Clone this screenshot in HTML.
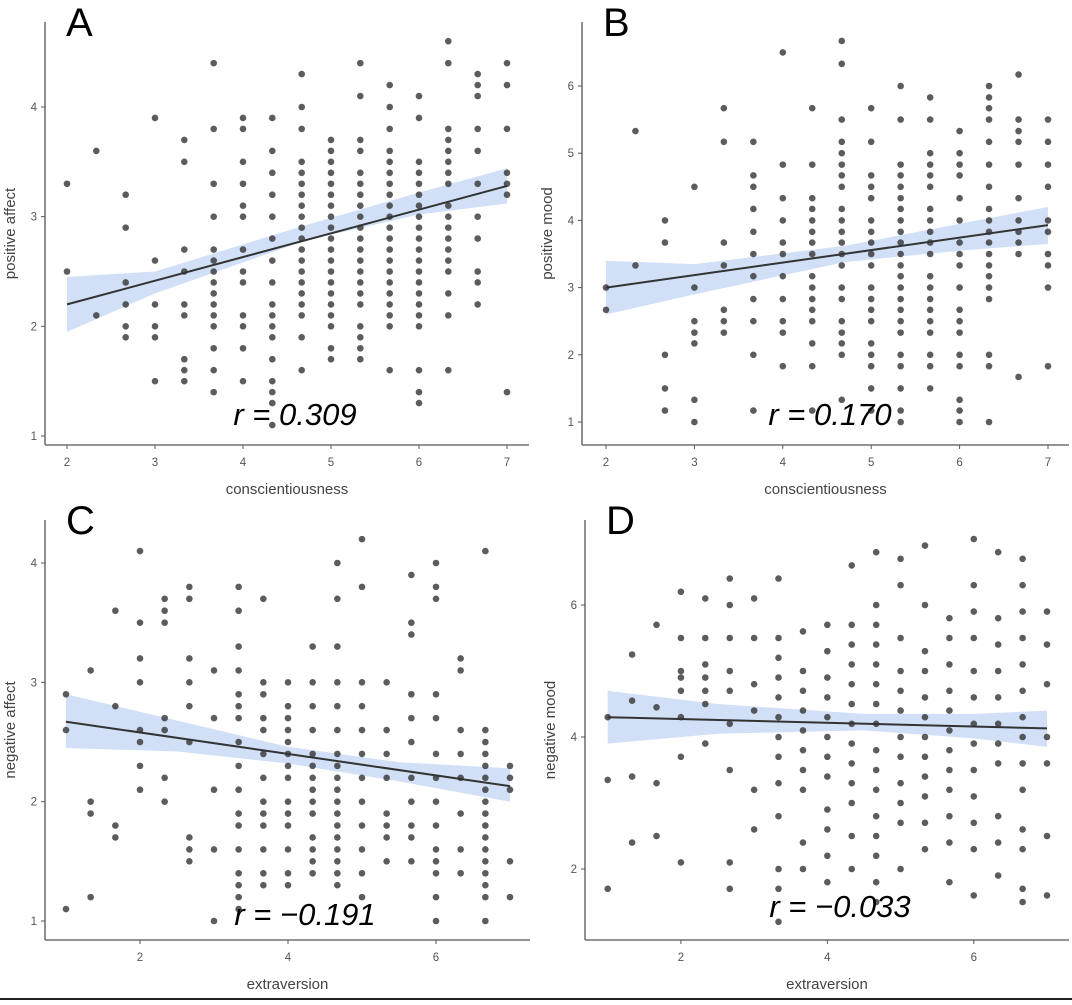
<!DOCTYPE html>
<html><head><meta charset="utf-8"><style>
body{margin:0;background:#fff;width:1072px;height:1000px;overflow:hidden;font-family:"Liberation Sans",sans-serif}
svg text{font-family:"Liberation Sans",sans-serif}
</style></head><body>
<svg id="fig" width="1072" height="1000" viewBox="0 0 1072 1000" xmlns="http://www.w3.org/2000/svg">
<line x1="0" y1="999" x2="1072" y2="999" stroke="#222" stroke-width="2"/>
</svg>
<script>
// Panel A: conscientiousness vs positive affect
const aCols=[2,2.333,2.667,3,3.333,3.667,4,4.333,4.667,5,5.333,5.667,6,6.333,6.667,7];
const aVals=[[3.3,2.5],[3.6,2.1],[3.2,2.9,2.4,2.2,2.0,1.9],[3.9,2.6,2.2,2.0,1.9,1.5],[3.7,3.5,2.7,2.5,2.2,2.1,1.7,1.6,1.5],
[4.4,3.8,3.3,3.0,2.7,2.6,2.5,2.4,2.3,2.2,2.1,2.0,1.8,1.6,1.4],[3.9,3.8,3.5,3.3,3.1,3.0,2.7,2.5,2.4,2.1,2.0,1.8,1.5],
[3.9,3.6,3.4,3.2,3.0,2.8,2.6,2.4,2.2,2.1,2.0,1.9,1.7,1.5,1.4,1.3,1.1],
[4.3,4.0,3.8,3.5,3.4,3.3,3.2,3.1,3.0,2.9,2.8,2.7,2.6,2.5,2.4,2.3,2.2,2.1,1.9,1.6],
[3.7,3.6,3.5,3.4,3.3,3.2,3.1,3.0,2.9,2.8,2.7,2.6,2.5,2.4,2.3,2.2,2.1,2.0,1.8,1.7],
[4.4,4.1,3.7,3.6,3.4,3.3,3.2,3.1,3.0,2.9,2.8,2.7,2.6,2.5,2.4,2.3,2.2,2.0,1.9,1.8,1.7],
[4.2,4.0,3.8,3.6,3.5,3.4,3.3,3.2,3.1,3.0,2.9,2.8,2.7,2.6,2.5,2.4,2.3,2.2,2.1,2.0,1.6],
[4.1,3.9,3.5,3.4,3.3,3.2,3.1,3.0,2.9,2.8,2.7,2.6,2.5,2.4,2.3,2.2,2.1,2.0,1.6,1.4,1.3],
[4.6,4.4,3.8,3.7,3.6,3.5,3.4,3.3,3.1,3.0,2.9,2.8,2.7,2.6,2.5,2.3,2.1,1.6],
[4.3,4.2,4.1,3.8,3.6,3.3,3.0,2.8,2.5,2.4,2.2],[4.4,4.2,3.8,3.4,3.3,3.2,1.4]];
const aFit=[2.2,3.28];
const aBandX=[2,3,4.7,6,7];
const aBandLo=[1.95,2.3,2.78,3.02,3.12];
const aBandHi=[2.45,2.5,2.92,3.22,3.44];
const aXTicks=[2,3,4,5,6,7];
const aYTicks=[1,2,3,4];

// Panel B: conscientiousness vs positive mood
const bCols=aCols;
const bVals=[[3.0,2.67],[5.33,3.33],[4.0,3.67,2.0,1.5,1.17],[4.5,3.0,2.5,2.33,2.17,1.33,1.0],[5.67,5.17,3.67,3.33,2.67,2.5,2.33],
[5.17,4.67,4.5,4.17,3.83,3.5,3.17,2.83,2.5,2.0,1.17],[6.5,4.83,4.33,4.0,3.67,3.5,3.17,2.83,2.5,2.33,1.83],
[5.67,4.83,4.33,4.17,4.0,3.83,3.67,3.5,3.17,3.0,2.83,2.67,2.5,2.17,1.83,1.17],
[6.67,6.33,5.5,5.17,5.0,4.83,4.67,4.5,4.17,4.0,3.83,3.67,3.5,3.33,3.0,2.83,2.5,2.33,2.17,2.0,1.33],
[5.67,5.17,4.67,4.5,4.33,4.0,3.83,3.67,3.5,3.33,3.0,2.83,2.67,2.5,2.17,2.0,1.83,1.5,1.17],
[6.0,5.5,4.83,4.67,4.5,4.33,4.17,4.0,3.83,3.67,3.5,3.33,3.17,3.0,2.83,2.67,2.5,2.33,2.0,1.83,1.5,1.17,1.0],
[5.83,5.5,5.0,4.83,4.67,4.5,4.17,4.0,3.83,3.67,3.5,3.17,3.0,2.83,2.67,2.5,2.33,2.0,1.83,1.5],
[5.33,5.0,4.83,4.67,4.33,4.0,3.67,3.5,3.33,3.0,2.67,2.5,2.33,2.0,1.83,1.33,1.17,1.0],
[6.0,5.83,5.67,5.5,5.17,4.83,4.5,4.17,4.0,3.83,3.67,3.5,3.33,3.17,3.0,2.83,2.0,1.83,1.0],
[6.17,5.5,5.33,5.17,4.83,4.33,4.0,3.83,3.67,3.5,1.67],[5.5,5.17,4.83,4.5,4.0,3.83,3.5,3.33,3.0,1.83]];
const bFit=[3.0,3.93];
const bBandX=[2,3,4.7,6,7];
const bBandLo=[2.6,2.9,3.38,3.55,3.65];
const bBandHi=[3.4,3.35,3.62,3.95,4.2];
const bXTicks=[2,3,4,5,6,7];
const bYTicks=[1,2,3,4,5,6];

// Panel C: extraversion vs negative affect
const cCols=[1,1.333,1.667,2,2.333,2.667,3,3.333,3.667,4,4.333,4.667,5,5.333,5.667,6,6.333,6.667,7];
const cVals=[[2.9,2.6,1.1],[3.1,2.0,1.9,1.2],[3.6,2.8,1.8,1.7],[4.1,3.5,3.2,3.0,2.6,2.5,2.3,2.1],[3.7,3.6,3.5,2.7,2.6,2.2,2.0],
[3.8,3.7,3.2,3.0,2.8,2.5,1.7,1.6,1.5],[3.1,2.7,2.1,1.6,1.0],
[3.8,3.6,3.3,3.1,2.9,2.8,2.7,2.5,2.3,2.1,1.9,1.8,1.6,1.4,1.3,1.2,1.1],
[3.7,3.0,2.9,2.7,2.6,2.4,2.2,2.0,1.9,1.8,1.6,1.4,1.3],[3.0,2.8,2.7,2.6,2.5,2.4,2.3,2.2,2.0,1.9,1.8,1.6,1.4,1.3],
[3.3,3.0,2.8,2.6,2.4,2.3,2.2,2.1,2.0,1.9,1.7,1.6,1.5,1.4],
[4.0,3.7,3.3,3.0,2.8,2.6,2.4,2.3,2.2,2.1,2.0,1.9,1.8,1.7,1.6,1.5,1.4,1.3],
[4.2,3.8,3.0,2.8,2.6,2.4,2.2,2.0,1.8,1.6,1.4,1.2],[3.0,2.6,2.4,2.2,1.9,1.8,1.7,1.5],
[3.9,3.5,3.4,2.9,2.7,2.5,2.2,2.0,1.8,1.7,1.5],[4.0,3.8,3.7,2.9,2.7,2.4,2.2,2.0,1.8,1.6,1.5,1.4,1.2,1.0],
[3.2,3.1,2.6,2.4,2.2,1.9,1.6,1.4],[4.1,2.6,2.5,2.4,2.3,2.2,2.1,2.0,1.9,1.8,1.7,1.6,1.5,1.4,1.3,1.2,1.0],[2.3,2.2,2.1,1.5,1.2]];
const cFit=[2.67,2.13];
const cBandX=[1,2.5,4,5.5,7];
const cBandLo=[2.45,2.42,2.32,2.17,2.0];
const cBandHi=[2.9,2.68,2.46,2.33,2.28];
const cXTicks=[2,4,6];
const cYTicks=[1,2,3,4];

// Panel D: extraversion vs negative mood
const dCols=cCols;
const dVals=[[4.3,3.35,1.7],[5.25,4.55,3.4,2.4],[5.7,4.45,3.3,2.5],[6.2,5.5,5.0,4.9,4.7,4.3,3.7,2.1],[6.1,5.5,5.1,4.9,4.7,4.5,3.9],
[6.4,6.0,5.5,5.0,4.7,4.2,3.5,2.1,1.7],[6.1,5.5,4.8,4.4,3.2,2.6],[6.4,5.5,5.2,4.9,4.6,4.3,4.0,3.7,3.3,2.8,2.0,1.7,1.2],
[5.6,5.0,4.7,4.4,4.1,3.8,3.5,3.2,2.4,2.0],[5.7,5.3,4.9,4.6,4.3,4.0,3.7,3.4,2.9,2.6,2.2,1.8],
[6.6,5.7,5.4,5.1,4.8,4.5,4.2,3.9,3.6,3.3,3.0,2.5,2.0],[6.8,6.0,5.7,5.4,5.1,4.8,4.5,4.2,3.8,3.5,3.2,2.8,2.5,2.2,1.8,1.5],
[6.7,6.3,5.5,5.0,4.7,4.4,4.0,3.7,3.3,3.0,2.7,2.0],[6.9,6.0,5.3,5.0,4.6,4.3,4.0,3.7,3.4,3.1,2.7,2.3],
[5.8,5.5,5.1,4.7,4.4,4.1,3.8,3.5,3.2,2.8,2.4,1.8],[7.0,6.3,5.9,5.5,5.0,4.6,4.2,3.9,3.5,3.1,2.7,2.3,1.6],
[6.8,5.8,5.4,5.0,4.6,4.2,3.9,3.6,2.8,2.4,1.9],[6.7,6.3,5.9,5.5,5.1,4.7,4.3,4.0,3.6,3.2,2.6,2.3,1.7,1.5],[5.9,5.4,4.8,4.0,3.6,2.5,1.6]];
const dFit=[4.3,4.13];
const dBandX=[1,2.5,4.5,6,7];
const dBandLo=[3.9,4.05,4.1,3.98,3.85];
const dBandHi=[4.7,4.5,4.35,4.35,4.4];
const dXTicks=[2,4,6];
const dYTicks=[2,4,6];

const NS='http://www.w3.org/2000/svg';
const svg=document.getElementById('fig');
function mk(tag,attrs,parent){const e=document.createElementNS(NS,tag);for(const k in attrs)e.setAttribute(k,attrs[k]);(parent||svg).appendChild(e);return e;}

function panel(id,letter,g,cols,vals,fit,bx,blo,bhi,xt,yt,xlab,ylab,rtxt){
  const sx=v=>g.x0+(v-g.xa)*(g.x1-g.x0)/(g.xb-g.xa);
  const sy=v=>g.y0+(v-g.ya)*(g.y1-g.y0)/(g.yb-g.ya);
  const grp=mk('g',{});
  
  
  let pts=bx.map((x,i)=>sx(x)+','+sy(bhi[i]));
  pts=pts.concat(bx.slice().reverse().map((x,i)=>sx(x)+','+sy(blo[bx.length-1-i])));
  const band=mk('polygon',{points:pts.join(' '),fill:'#c6d8f5',opacity:0.8},grp);
  
  
  cols.forEach((c,i)=>vals[i].forEach(v=>{
    const p=mk('circle',{cx:sx(c),cy:sy(v),r:3.3,fill:'#333',opacity:0.8},grp);
    
    
  }));
  const ln=mk('line',{x1:sx(bx[0]),y1:sy(fit[0]),x2:sx(bx[bx.length-1]),y2:sy(fit[1]),stroke:'#333','stroke-width':2},grp);
  
  
  const ya=mk('line',{x1:g.ax,y1:g.top,x2:g.ax,y2:g.ay,stroke:'#555','stroke-width':1.3},grp);
  
  
  const xa=mk('line',{x1:g.ax,y1:g.ay,x2:g.right,y2:g.ay,stroke:'#555','stroke-width':1.3},grp);
  
  
  xt.forEach(t=>{
    mk('line',{x1:sx(t),y1:g.ay,x2:sx(t),y2:g.ay+4,stroke:'#555'},grp);
    const tx=mk('text',{x:sx(t),y:g.ay+21,'font-size':11.5,fill:'#555','text-anchor':'middle'},grp);
    tx.textContent=t;
    
    
  });
  yt.forEach(t=>{
    mk('line',{x1:g.ax-4,y1:sy(t),x2:g.ax,y2:sy(t),stroke:'#555'},grp);
    const tx=mk('text',{x:g.ax-8,y:sy(t)+4,'font-size':11.5,fill:'#555','text-anchor':'end'},grp);
    tx.textContent=t;
    
    
  });
  const xl=mk('text',{x:(g.ax+g.right)/2,y:g.ay+49,'font-size':15,fill:'#444','text-anchor':'middle'},grp);
  xl.textContent=xlab;
  
  
  const cy=(g.top+g.ay)/2;
  const yl=mk('text',{x:g.ax-30,y:cy,'font-size':15,fill:'#444','text-anchor':'middle',transform:`rotate(-90 ${g.ax-30} ${cy})`},grp);
  yl.textContent=ylab;
  
  
  const L=mk('text',{x:g.ax+21,y:g.top+14,'font-size':40,fill:'#000'},grp);
  L.textContent=letter;
  
  
  const r=mk('text',{x:g.rx,y:g.ry,'font-size':31,'font-style':'italic',fill:'#000','text-anchor':'middle'},grp);
  r.textContent=rtxt;
  
  
}

panel('a','A',{x0:67,x1:507,xa:2,xb:7,y0:436,y1:107,ya:1,yb:4,ax:45,ay:445,top:22,right:529,rx:295,ry:425},
  aCols,aVals,aFit,aBandX,aBandLo,aBandHi,aXTicks,aYTicks,'conscientiousness','positive affect','r = 0.309');
panel('b','B',{x0:606,x1:1048,xa:2,xb:7,y0:422,y1:86,ya:1,yb:6,ax:582,ay:445,top:22,right:1069,rx:830,ry:425},
  bCols,bVals,bFit,bBandX,bBandLo,bBandHi,bXTicks,bYTicks,'conscientiousness','positive mood','r = 0.170');
panel('c','C',{x0:66,x1:510,xa:1,xb:7,y0:921,y1:563,ya:1,yb:4,ax:45,ay:940,top:520,right:530,rx:305,ry:925},
  cCols,cVals,cFit,cBandX,cBandLo,cBandHi,cXTicks,cYTicks,'extraversion','negative affect','r = \u22120.191');
panel('d','D',{x0:607.7,x1:1047,xa:1,xb:7,y0:869,y1:605,ya:2,yb:6,ax:585,ay:940,top:520,right:1069,rx:840,ry:917},
  dCols,dVals,dFit,dBandX,dBandLo,dBandHi,dXTicks,dYTicks,'extraversion','negative mood','r = \u22120.033');
</script>
</body></html>
